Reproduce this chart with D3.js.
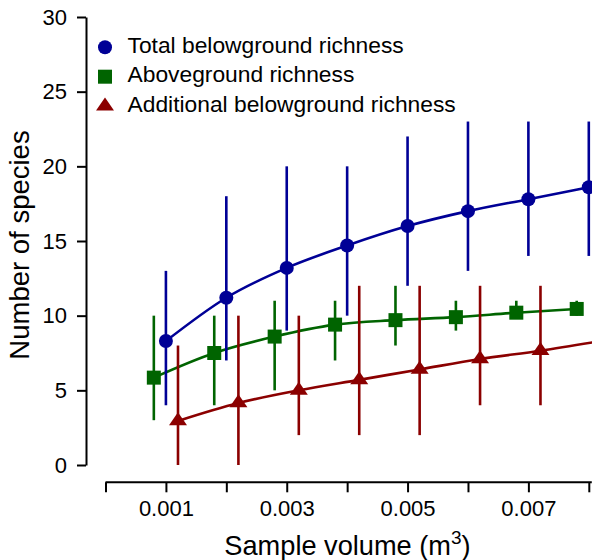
<!DOCTYPE html>
<html>
<head>
<meta charset="utf-8">
<script src="https://cdn.jsdelivr.net/npm/d3@7"></script>
<style>
  html, body { margin: 0; padding: 0; background: #fff; }
  svg { display: block; font-family: "Liberation Sans", Arial, Helvetica, sans-serif; }
</style>
</head>
<body>
<svg id="chart" width="592" height="560"></svg>
<script>
// Sample volumes (m^3) at which richness was estimated
const volumes = [0.001, 0.002, 0.003, 0.004, 0.005, 0.006, 0.007, 0.008];

// Total belowground richness: mean and range
const totalMean = [8.3, 11.2, 13.2, 14.7, 16.0, 17.0, 17.8, 18.6];
const totalLow  = [4, 7, 9, 10, 12, 13, 14, 14];
const totalHigh = [13, 18, 20, 20, 22, 23, 23, 23];

// Aboveground richness: mean and range
const aboveMean = [5.85, 7.5, 8.6, 9.4, 9.7, 9.9, 10.2, 10.45];
const aboveLow  = [3, 4, 5, 7, 8, 9, 10, 10];
const aboveHigh = [10, 10, 11, 11, 12, 11, 11, 11];

// Additional belowground richness: mean and range (first seven volumes)
const addMean = [2.95, 4.15, 5.0, 5.7, 6.4, 7.1, 7.65];
const addLow  = [0, 0, 2, 2, 2, 4, 4];
const addHigh = [8, 10, 10, 12, 12, 12, 12];
// the fitted trend for additional richness runs on past the last sample
const addTrendEnd = { volume: 0.0082, value: 8.3 };

const yTicks = [0, 5, 10, 15, 20, 25, 30];
const xTickValues = [0, 0.001, 0.002, 0.003, 0.004, 0.005, 0.006, 0.007, 0.008];
const xTickLabels = ["", "0.001", "", "0.003", "", "0.005", "", "0.007", ""];

const seriesNames = ["Total belowground richness", "Aboveground richness", "Additional belowground richness"];

// ---- layout ----
const svg = d3.select("#chart");
const x = d3.scaleLinear().domain([0, 0.008]).range([105.5, 588.8]);
const y = d3.scaleLinear().domain([0, 30]).range([465, 17]);
const yAxisX = 86;
const xAxisY = 482.3;
const dodge = 0.0002; // horizontal offset of the side series, in m^3

const colors = { total: "#000096", above: "#006400", add: "#8b0000" };
const tickFont = 22;

// ---- axes ----
const yAxis = svg.append("g")
  .attr("transform", `translate(${yAxisX},0)`)
  .call(d3.axisLeft(y).tickValues(yTicks).tickSize(9).tickSizeOuter(0).tickPadding(10));
yAxis.selectAll("text").attr("font-size", tickFont).attr("fill", "#000")
  .style("font-family", "'Liberation Sans', Arial, sans-serif");

const xAxis = svg.append("g")
  .attr("transform", `translate(0,${xAxisY})`)
  .call(d3.axisBottom(x).tickValues(xTickValues).tickSize(10).tickSizeOuter(0).tickPadding(7.8)
    .tickFormat((d, i) => xTickLabels[i]));
xAxis.selectAll("text").attr("font-size", tickFont).attr("fill", "#000")
  .style("font-family", "'Liberation Sans', Arial, sans-serif");

svg.selectAll(".domain, .tick line").attr("stroke", "#000").attr("stroke-width", 2);
xAxis.select(".domain").attr("d", `M${x(0)},0H${x(0.008) + 3}`);

// axis titles
svg.append("text")
  .attr("x", 347.5).attr("y", 555)
  .attr("text-anchor", "middle").attr("font-size", 27.2).attr("fill", "#000")
  .call(t => {
    t.append("tspan").text("Sample volume (m");
    t.append("tspan").attr("font-size", 19).attr("dy", -11).text("3");
    t.append("tspan").attr("dy", 11).text(")");
  });

svg.append("text")
  .attr("transform", `translate(28.5,245) rotate(-90)`)
  .attr("text-anchor", "middle").attr("font-size", 27.5).attr("fill", "#000")
  .text("Number of species");

// ---- marker shapes ----
const triPath = "M0,-8.7L9,4.3L-9,4.3Z";
function drawMarker(g, kind, color) {
  if (kind === "circle") g.append("circle").attr("r", 7).attr("fill", color);
  else if (kind === "square") g.append("rect").attr("x", -7).attr("y", -7).attr("width", 14).attr("height", 14).attr("fill", color);
  else g.append("path").attr("d", triPath).attr("fill", color);
}

// ---- series ----
function drawSeries(cfg) {
  const g = svg.append("g");
  const pts = cfg.mean.map((m, i) => ({
    v: volumes[i] + cfg.offset, mean: m, lo: cfg.low[i], hi: cfg.high[i]
  }));
  // error bars
  g.selectAll("line.err").data(pts).join("line")
    .attr("x1", d => x(d.v)).attr("x2", d => x(d.v))
    .attr("y1", d => y(d.lo)).attr("y2", d => y(d.hi))
    .attr("stroke", cfg.color).attr("stroke-width", 2.6);
  // trend line
  const linePts = pts.map(d => [d.v, d.mean]);
  if (cfg.tail) linePts.push([cfg.tail.volume, cfg.tail.value]);
  g.append("path")
    .attr("d", d3.line().x(d => x(d[0])).y(d => y(d[1])).curve(d3.curveMonotoneX)(linePts))
    .attr("fill", "none").attr("stroke", cfg.color).attr("stroke-width", 2.6);
  // markers
  pts.forEach(d => {
    const m = g.append("g").attr("transform", `translate(${x(d.v)},${y(d.mean)})`);
    drawMarker(m, cfg.kind, cfg.color);
  });
}

drawSeries({ mean: aboveMean, low: aboveLow, high: aboveHigh, offset: -dodge, color: colors.above, kind: "square" });
drawSeries({ mean: totalMean, low: totalLow, high: totalHigh, offset: 0, color: colors.total, kind: "circle" });
drawSeries({ mean: addMean, low: addLow, high: addHigh, offset: dodge, color: colors.add, kind: "triangle", tail: addTrendEnd });

// ---- legend ----
const legendKinds = ["circle", "square", "triangle"];
const legendColors = [colors.total, colors.above, colors.add];
const legend = svg.append("g");
seriesNames.forEach((name, i) => {
  const base = 52.7 + i * 29.5;
  const m = legend.append("g").attr("transform", `translate(105,${base - 5.5})`);
  drawMarker(m, legendKinds[i], legendColors[i]);
  legend.append("text").attr("x", 127.5).attr("y", base)
    .attr("font-size", 22.8).attr("fill", "#000").text(name);
});
</script>
</body>
</html>
